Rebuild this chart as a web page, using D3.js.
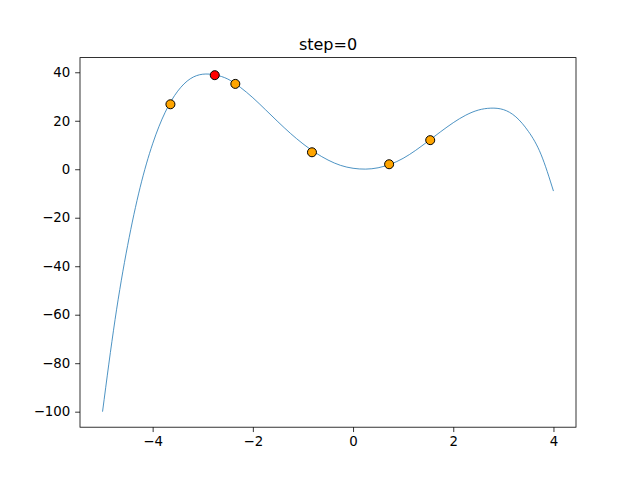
<!DOCTYPE html>
<html><head><meta charset="utf-8">
<script src="https://cdn.jsdelivr.net/npm/d3@7"></script>
<style>body{margin:0;background:#fff}svg{display:block}</style>
</head><body>
<script>
// Curve samples
const curveX = [-5,-4.75,-4.5,-4.25,-4,-3.75,-3.5,-3.25,-3,-2.75,-2.5,-2.25,-2,-1.75,-1.5,-1.25,-1,-0.75,-0.5,-0.25,0,0.25,0.5,0.75,1,1.25,1.5,1.75,2,2.25,2.5,2.75,3,3.25,3.5,3.75,4];
const curveY = [-100,-62,-31.5,-7.5,10.5,23.5,32.2,37.3,39.2,38.9,37.2,33.8,29.5,24.6,19.6,14.8,10.5,6.8,3.8,1.6,0.4,0.05,0.6,2.1,4.5,7.8,11.6,15.5,19.2,22.3,24.4,25.2,24.6,21.6,15.6,6.2,-9];
// Sampled points
const ptsX = [-3.645,-2.35,-0.82,0.72,1.54];
const ptsY = [26.8,35.2,7.0,2.06,12.0];
const bestX = [-2.76];
const bestY = [38.8];
const xTicks = [-4,-2,0,2,4];
const yTicks = [-100,-80,-60,-40,-20,0,20,40];
const title = "step=0";

const W=640,H=480, L=80,R=576,T=57.6,B=427.2;
const svg=d3.select("body").append("svg").attr("width",W).attr("height",H);
const x=d3.scaleLinear().domain([-5.45,4.45]).range([L,R]);
const y=d3.scaleLinear().domain([-106.4,46.05]).range([B,T]);
const fmt=d=>d<0?"\u2212"+Math.abs(d):String(d);

const line=d3.line().x((d,i)=>x(curveX[i])).y((d,i)=>y(curveY[i])).curve(d3.curveNatural);
svg.append("path").datum(curveY).attr("d",line).attr("fill","none").attr("stroke","#1f77b4").attr("stroke-width",0.8);

svg.selectAll("circle.o").data(ptsX).enter().append("circle").attr("class","o")
 .attr("cx",(d)=>x(d)).attr("cy",(d,i)=>y(ptsY[i])).attr("r",4.5)
 .attr("fill","orange").attr("stroke","#000").attr("stroke-width",1);
svg.selectAll("circle.r").data(bestX).enter().append("circle").attr("class","r")
 .attr("cx",(d)=>x(d)).attr("cy",(d,i)=>y(bestY[i])).attr("r",4.5)
 .attr("fill","red").attr("stroke","#000").attr("stroke-width",1);

const font="DejaVu Sans";
const xa=svg.append("g").attr("transform",`translate(0,${B})`)
 .call(d3.axisBottom(x).tickValues(xTicks).tickFormat(fmt).tickSizeInner(4.86).tickSizeOuter(0).tickPadding(4.86));
const ya=svg.append("g").attr("transform",`translate(${L},0)`)
 .call(d3.axisLeft(y).tickValues(yTicks).tickFormat(fmt).tickSizeInner(4.86).tickSizeOuter(0).tickPadding(4.86));
[xa,ya].forEach(a=>{a.select(".domain").remove();a.selectAll("line").attr("stroke","#000").attr("stroke-width",0.8);
 a.selectAll("text").attr("font-family",font).attr("font-size","13.33px").attr("fill","#000");});

svg.append("rect").attr("x",L).attr("y",T).attr("width",R-L).attr("height",B-T)
 .attr("fill","none").attr("stroke","#000").attr("stroke-width",0.8);

svg.append("text").attr("x",(L+R)/2).attr("y",T-8).attr("text-anchor","middle")
 .attr("font-family",font).attr("font-size","16px").text(title);
</script>
</body></html>
